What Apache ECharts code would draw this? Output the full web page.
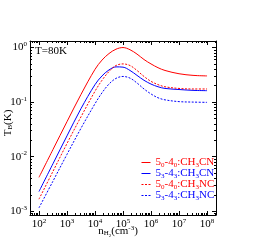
<!DOCTYPE html>
<html><head><meta charset="utf-8">
<script src="https://cdn.jsdelivr.net/npm/echarts@6/dist/echarts.min.js"></script>
<style>html,body{margin:0;padding:0;background:#fff}#c{width:274px;height:240px}</style>
</head><body><div id="c"></div>
<script>
// H2 density (cm^-3)
const density = [1e2, 3.16e2, 1e3, 3.16e3, 1e4, 1.78e4, 3.16e4, 5.62e4, 1e5, 1.78e5, 3.16e5, 5.62e5, 1e6, 1.78e6, 3.16e6, 1e7, 3.16e7, 1e8];
// brightness temperature T_B (K)
const tbCH3CN_50 = [0.00417, 0.0135, 0.0437, 0.138, 0.398, 0.589, 0.776, 0.933, 1.0, 0.912, 0.759, 0.603, 0.501, 0.427, 0.380, 0.331, 0.309, 0.302];
const tbCH3CN_53 = [0.00229, 0.00741, 0.0240, 0.0759, 0.209, 0.302, 0.389, 0.442, 0.437, 0.380, 0.309, 0.251, 0.214, 0.191, 0.178, 0.170, 0.164, 0.162];
const tbCH3NC_50 = [0.00166, 0.00537, 0.0174, 0.0537, 0.158, 0.251, 0.363, 0.468, 0.501, 0.468, 0.380, 0.295, 0.240, 0.209, 0.191, 0.178, 0.174, 0.174];
const tbCH3NC_53 = [0.00115, 0.00355, 0.0110, 0.0331, 0.0933, 0.148, 0.214, 0.272, 0.295, 0.275, 0.224, 0.174, 0.141, 0.120, 0.110, 0.102, 0.100, 0.0989];
// tick decades (powers of ten)
const xTickExp = [2, 3, 4, 5, 6, 7, 8];
const yTickExp = [-3, -2, -1, 0];
const xRange = [1.68, 8.32];
const yRange = [-3.07, 0.12];

const serifFont = '"Liberation Serif", "DejaVu Serif", serif';
function minors(lo, hi) {
  const out = [];
  for (let d = Math.floor(lo) - 1; d <= Math.ceil(hi); d++) {
    for (let k = 2; k <= 9; k++) {
      const v = d + Math.log10(k);
      if (v > lo && v < hi) out.push(v);
    }
  }
  return out;
}
const xMinor = minors(xRange[0], xRange[1]);
const yMinor = minors(yRange[0], yRange[1]);
const toPts = arr => density.map((n, i) => [Math.log10(n), Math.log10(arr[i])]);

const supRich = {
  b: { fontSize: 11, fontFamily: serifFont, color: '#000' },
  s: { fontSize: 7, fontFamily: serifFont, color: '#000', padding: [0, 0, 6, 0] }
};
const powLabel = v => '{b|10}{s|' + Math.round(v) + '}';

function axisSet(dim, pos, range, majors, minorVals, withLabels, name) {
  const base = {
    type: 'value', min: range[0], max: range[1], position: pos,
    splitLine: { show: false },
    axisLine: { show: true, onZero: false, lineStyle: { color: '#000', width: 1 } },
  };
  const major = Object.assign({}, base, {
    axisTick: { show: true, inside: true, length: 4, customValues: majors, lineStyle: { color: '#000' } },
    axisLabel: withLabels ? { show: true, customValues: majors, formatter: powLabel, rich: supRich, margin: 3 } : { show: false }
  });
  if (name) Object.assign(major, name);
  const minor = Object.assign({}, base, {
    axisLine: { show: false, onZero: false },
    axisTick: { show: true, inside: true, length: 2, customValues: minorVals, lineStyle: { color: '#000' } },
    axisLabel: { show: false }
  });
  return [major, minor];
}

const xName = {
  name: '{b|n}{s|H}{ss|2}{b|(cm}{p|-3}{b|)}', nameLocation: 'middle', nameGap: 9, nameMoveOverlap: false,
  nameTextStyle: {
    padding: [0, 10, 0, 0],
    rich: {
      b: { fontSize: 11, fontFamily: serifFont, color: '#000' },
      s: { fontSize: 7, fontFamily: serifFont, color: '#000', padding: [5, 0, 0, 0] },
      ss: { fontSize: 5, fontFamily: serifFont, color: '#000', padding: [9, 0, 0, 0] },
      p: { fontSize: 7, fontFamily: serifFont, color: '#000', padding: [0, 0, 6, 0] }
    }
  }
};
const yName = {
  name: '{b|T}{s|B}{b|(K)}', nameLocation: 'middle', nameGap: 16, nameMoveOverlap: false,
  nameTextStyle: {
    padding: [0, 0, 0, 10],
    rich: {
      b: { fontSize: 11, fontFamily: serifFont, color: '#000' },
      s: { fontSize: 7, fontFamily: serifFont, color: '#000', padding: [5, 0, 0, 0] }
    }
  }
};

const xAxes = [].concat(
  axisSet('x', 'bottom', xRange, xTickExp, xMinor, true, xName),
  axisSet('x', 'top', xRange, xTickExp, xMinor, false)
);
const yAxes = [].concat(
  axisSet('y', 'left', yRange, yTickExp, yMinor, true, yName),
  axisSet('y', 'right', yRange, yTickExp, yMinor, false)
);

const seriesDefs = [
  { name: 'a', data: tbCH3CN_50, color: '#ff0000', type: 'solid', label: '{rb|5}{rs|0}{rb|-4}{rs|0}{rb|:CH}{rs|3}{rb|CN}' },
  { name: 'b', data: tbCH3CN_53, color: '#0000ff', type: 'solid', label: '{bb|5}{bs|3}{bb|-4}{bs|3}{bb|:CH}{bs|3}{bb|CN}' },
  { name: 'c', data: tbCH3NC_50, color: '#ff0000', type: [2, 1.5], label: '{rb|5}{rs|0}{rb|-4}{rs|0}{rb|:CH}{rs|3}{rb|NC}' },
  { name: 'd', data: tbCH3NC_53, color: '#0000ff', type: [2, 1.5], label: '{bb|5}{bs|3}{bb|-4}{bs|3}{bb|:CH}{bs|3}{bb|NC}' }
];
const labelMap = {};
seriesDefs.forEach(s => labelMap[s.name] = s.label);

const chart = echarts.init(document.getElementById('c'), null, { renderer: 'canvas' });
chart.setOption({
  animation: false,
  backgroundColor: '#fff',
  grid: { left: 30, right: 58, top: 41, bottom: 25, containLabel: false, outerBoundsMode: 'none' },
  title: { text: 'T=80K', left: 35, top: 46, padding: 0,
    textStyle: { fontSize: 11, fontWeight: 'normal', fontFamily: serifFont, color: '#000' } },
  legend: {
    orient: 'vertical', left: 141, top: 156, itemWidth: 9, itemHeight: 6, itemGap: -2,
    padding: 0, selectedMode: false,
    itemStyle: { opacity: 0 },
    lineStyle: { width: 1 },
    data: seriesDefs.map(s => s.name),
    formatter: n => labelMap[n],
    textStyle: {
      lineHeight: 10,
      rich: {
        rb: { fontSize: 11, lineHeight: 10, fontFamily: serifFont, color: '#ff0000' },
        rs: { fontSize: 7, lineHeight: 10, fontFamily: serifFont, color: '#ff0000', padding: [6, 0, 0, 0] },
        bb: { fontSize: 11, lineHeight: 10, fontFamily: serifFont, color: '#0000ff' },
        bs: { fontSize: 7, lineHeight: 10, fontFamily: serifFont, color: '#0000ff', padding: [6, 0, 0, 0] }
      }
    }
  },
  xAxis: xAxes,
  yAxis: yAxes,
  series: seriesDefs.map(s => ({
    name: s.name, type: 'line', xAxisIndex: 0, yAxisIndex: 0,
    data: toPts(s.data), smooth: 0.35, showSymbol: false, symbol: 'none',
    color: s.color,
    lineStyle: { color: s.color, width: 1, type: s.type }
  }))
});
</script></body></html>
